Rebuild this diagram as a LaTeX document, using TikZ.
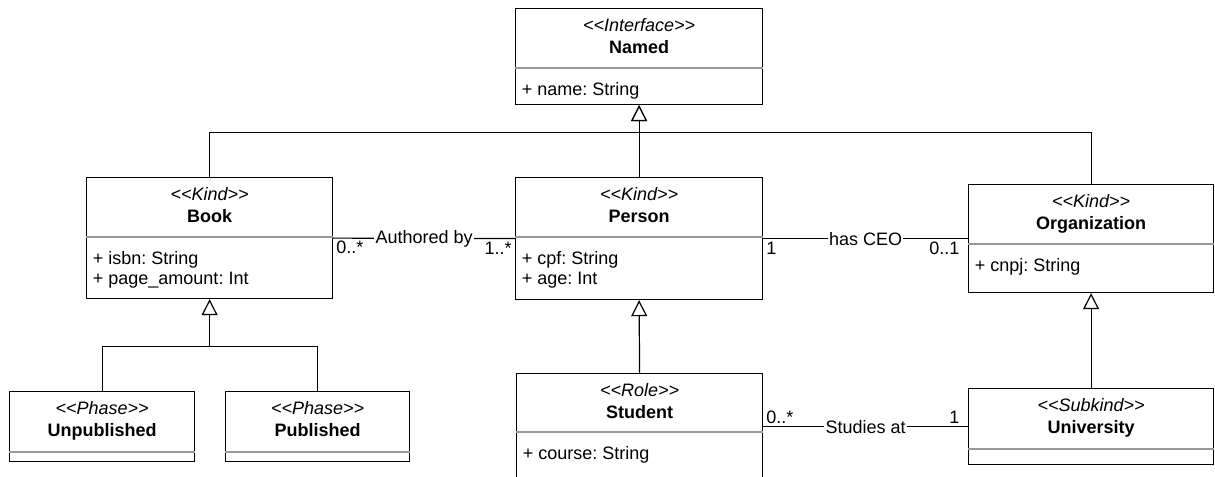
\documentclass[tikz,border=0pt]{standalone}
\usepackage{fontspec}
\setmainfont{Liberation Sans}[Ligatures=TeXOff]
\frenchspacing
\usetikzlibrary{positioning,arrows.meta}

\tikzset{
  classbox/.style={draw,line width=0.9pt,anchor=north west,inner sep=0pt},
  classhead/.style={anchor=north,align=center,inner sep=0pt,font=\fontsize{13.5}{16.5}\selectfont},
  classattr/.style={anchor=north west,align=left,inner sep=0pt,font=\fontsize{13.5}{15}\selectfont},
  classsep/.style={draw=black!40,line width=1.1pt},
  gen/.style={line width=0.9pt,-{Triangle[open,length=12pt,width=12pt,fill=white]}},
  assoc/.style={line width=0.9pt},
  mult/.style={inner sep=2pt,font=\fontsize{13.5}{15}\selectfont},
  assoclabel/.style={fill=white,inner sep=1pt,font=\fontsize{13.5}{15}\selectfont}
}

% name, x, y, width, height, separator, stereotype, title, attributes
\newcommand{\umlclass}[9]{%
  \node[classbox,minimum width=#4*0.75pt,minimum height=#5*0.75pt] (#1) at (#2,#3) {};
  \node[classhead,below=8pt of #1.north] (#1-head) {\textit{<<#7>>}\\\textbf{#8}};
  \coordinate (#1-sep) at ([yshift=-#6*0.75pt]#1.north west);
  \draw[classsep] (#1-sep) -- (#1-sep -| #1.east);
  \node[classattr] (#1-attr) at ([shift={(5pt,-11pt)}]#1-sep) {#9};
}

\begin{document}
\begin{tikzpicture}[x=0.75pt,y=-0.75pt]
  \useasboundingbox (0,0) rectangle (1215,477);

  \umlclass{named}{515}{8}{247}{96}{60}{Interface}{Named}{+ name: String}
  \umlclass{book}{86}{177}{246}{121}{60}{Kind}{Book}{+ isbn: String\\+ page\_amount: Int}
  \umlclass{person}{515}{177}{247}{122}{60}{Kind}{Person}{+ cpf: String\\+ age: Int}
  \umlclass{org}{968}{184}{245}{108}{60}{Kind}{Organization}{+ cnpj: String}
  \umlclass{unpub}{9}{391}{185}{70}{61}{Phase}{Unpublished}{}
  \umlclass{pub}{225}{391}{184}{70}{61}{Phase}{Published}{}
  \umlclass{student}{516}{373}{246}{130}{59}{Role}{Student}{+ course: String}
  \umlclass{univ}{968}{388}{245}{76}{61}{Subkind}{University}{}

  % generalizations
  \coordinate (tophub) at ([yshift=-27*0.75pt]named.south);
  \coordinate (bookhub) at ([yshift=-47*0.75pt]book.south);
  \draw[gen] (book.north) |- (tophub) -- (named.south);
  \draw[assoc] (org.north) |- (tophub);
  \draw[gen] (person.north) -- (named.south);
  \draw[gen] (unpub.north) |- (bookhub) -- (book.south);
  \draw[assoc] (pub.north) |- (bookhub);
  \draw[gen] (student.north) -- (person.south);
  \draw[gen] (univ.north) -- (org.south);

  % associations
  \draw[assoc] (book.east) -- node[assoclabel] {Authored by}
    node[mult,pos=0,anchor=north west] {0..*}
    node[mult,pos=1,anchor=north east] {1..*} (person.west);
  \draw[assoc] (person.east) -- node[assoclabel] {has CEO}
    node[mult,pos=0,anchor=north west] {1}
    node[mult,pos=1,anchor=north east,xshift=-4pt] {0..1} (org.west);
  \draw[assoc] (student.east |- univ.west) -- node[assoclabel] {Studies at}
    node[mult,pos=0,anchor=south west] {0..*}
    node[mult,pos=1,anchor=south east,xshift=-4pt] {1} (univ.west);
\end{tikzpicture}
\end{document}
